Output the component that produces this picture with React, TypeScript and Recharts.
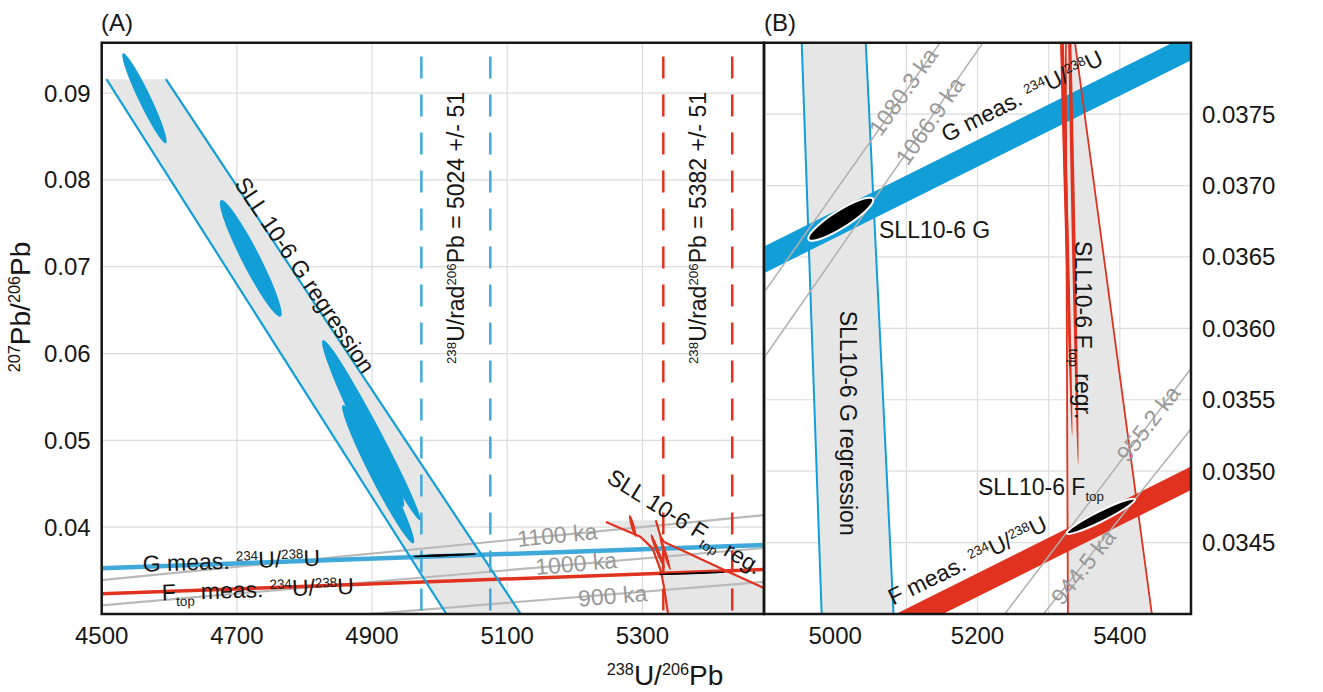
import React from "react";
import {
  ComposedChart,
  Line,
  Area,
  XAxis,
  YAxis,
  CartesianGrid,
  ReferenceLine,
  ReferenceDot,
  ReferenceArea,
} from "recharts";

const FONT = '"Liberation Sans", Arial, Helvetica, sans-serif';
const INK = "#161616";
const GRID = "#dcdcdc";
const BAND = "#e6e6e6";
const BLUE = "#129fd7";
const BLUE_LIGHT = "#3fa9dc";
const RED = "#e1321f";
const ISO = "#b9b9b9";
const ISO_TEXT = "#999999";
const TICK = { fontSize: 24, fill: INK, fontFamily: FONT };

// ---------- panel A (wide view) ----------
const A_X_DOMAIN = [4500, 5480];
const A_Y_DOMAIN = [0.03, 0.0958];
const A_X_TICKS = [4500, 4700, 4900, 5100, 5300];
const A_Y_TICKS = [0.04, 0.05, 0.06, 0.07, 0.08, 0.09];

// SLL10-6 G regression envelope
const A_G_REG_LEFT = [{ x: 4507, y: 0.0916 }, { x: 5010, y: 0.03 }];
const A_G_REG_RIGHT = [{ x: 4595, y: 0.0916 }, { x: 5120, y: 0.03 }];
const A_G_ENVELOPE = [
  { x: 4507, r: [0.0916, 0.0916] },
  { x: 4595, r: [0.0808, 0.0916] },
  { x: 5010, r: [0.03, 0.0429] },
  { x: 5120, r: [0.03, 0.03] },
];

// SLL10-6 Ftop regression envelope (two branches)
const A_F_REG_LEFT = [
  { x: 5246, y: 0.0406 },
  { x: 5297, y: 0.0389 },
  { x: 5315, y: 0.03755 },
  { x: 5327, y: 0.03505 },
  { x: 5332, y: 0.03313 },
  { x: 5338, y: 0.03 },
];
const A_F_REG_RIGHT = [
  { x: 5320, y: 0.0408 },
  { x: 5327, y: 0.0389 },
  { x: 5332, y: 0.0383 },
  { x: 5357, y: 0.0374 },
  { x: 5426, y: 0.0349 },
  { x: 5481, y: 0.03295 },
];
const A_F_ENVELOPE = [
  { x: 5246, r: [0.0406, 0.0407] },
  { x: 5297, r: [0.0389, 0.0408] },
  { x: 5315, r: [0.03755, 0.0408] },
  { x: 5320, r: [0.0365, 0.0408] },
  { x: 5327, r: [0.03505, 0.0389] },
  { x: 5332, r: [0.03313, 0.0383] },
  { x: 5338, r: [0.03, 0.0381] },
  { x: 5357, r: [0.03, 0.0374] },
  { x: 5426, r: [0.03, 0.0349] },
  { x: 5481, r: [0.03, 0.03295] },
];

// isochrons
const A_ISO_1100 = [{ x: 4500, y: 0.0339 }, { x: 5480, y: 0.0414 }];
const A_ISO_1000 = [{ x: 4500, y: 0.031 }, { x: 5480, y: 0.0376 }];
const A_ISO_900 = [{ x: 4897, y: 0.03 }, { x: 5480, y: 0.0337 }];

// measured 234U/238U
const A_G_MEAS = [{ x: 4500, y: 0.03528 }, { x: 5480, y: 0.03796 }];
const A_F_MEAS = [{ x: 4500, y: 0.03232 }, { x: 5480, y: 0.03513 }];

// 238U/rad206Pb ages (value +/- err)
const G_AGE = { value: 5024, err: 51 };
const F_AGE = { value: 5382, err: 51 };
const AGE_TOP = 0.0942;

// ---------- panel B (zoom) ----------
const B_X_DOMAIN = [4900, 5500];
const B_Y_DOMAIN = [0.034, 0.038];
const B_X_TICKS = [5000, 5100, 5200, 5300, 5400];
const B_Y_TICKS = [0.0345, 0.035, 0.0355, 0.036, 0.0365, 0.037, 0.0375];

const B_G_REG_LEFT = [{ x: 4953, y: 0.038 }, { x: 4981, y: 0.034 }];
const B_G_REG_RIGHT = [{ x: 5043, y: 0.038 }, { x: 5082, y: 0.034 }];
const B_G_ENVELOPE = [
  { x: 4953, r: [0.038, 0.038] },
  { x: 4981, r: [0.034, 0.038] },
  { x: 5043, r: [0.034, 0.038] },
  { x: 5082, r: [0.034, 0.034] },
];
const B_F_REG_LEFT = [{ x: 5324, y: 0.038 }, { x: 5327, y: 0.034 }];
const B_F_REG_RIGHT = [{ x: 5337, y: 0.038 }, { x: 5445, y: 0.034 }];
const B_F_ENVELOPE = [
  { x: 5324, r: [0.038, 0.038] },
  { x: 5327, r: [0.034, 0.038] },
  { x: 5337, r: [0.034, 0.038] },
  { x: 5445, r: [0.034, 0.034] },
];
const B_G_MEAS = [{ x: 4860, y: 0.03638 }, { x: 5540, y: 0.03807 }];
const B_F_MEAS = [{ x: 5050, y: 0.03383 }, { x: 5540, y: 0.03505 }];
const B_ISO_1080 = [{ x: 4880, y: 0.03611 }, { x: 5170, y: 0.03816 }];
const B_ISO_1067 = [{ x: 4880, y: 0.03565 }, { x: 5230, y: 0.03816 }];
const B_ISO_955 = [{ x: 5220, y: 0.03388 }, { x: 5520, y: 0.03585 }];
const B_ISO_945 = [{ x: 5280, y: 0.03392 }, { x: 5520, y: 0.03542 }];

// ---------- error ellipses (both panels) ----------
// ends of the long axis, plus a conjugate half width in x (hx) or y (hy) units
type Ell = { x1: number; y1: number; x2: number; y2: number; hx?: number; hy?: number };
const G_GRAINS: Ell[] = [
  { x1: 4532, y1: 0.09458, x2: 4594.6, y2: 0.08421, hx: 10 },
  { x1: 4677.4, y1: 0.07768, x2: 4763.7, y2: 0.06423, hx: 15 },
  { x1: 4827.7, y1: 0.06155, x2: 4946, y2: 0.04234, hx: 14 },
  { x1: 4857.3, y1: 0.05406, x2: 4960.8, y2: 0.03813, hx: 13 },
  { x1: 4832.7, y1: 0.06117, x2: 4970.7, y2: 0.04081, hx: 11 },
];
const F_GRAINS: Ell[] = [
  { x1: 5281.2, y1: 0.04139, x2: 5290.1, y2: 0.03886, hx: 3 },
  { x1: 5312.7, y1: 0.03908, x2: 5333, y2: 0.03525, hx: 2.6 },
  { x1: 5326.1, y1: 0.03889, x2: 5341.4, y2: 0.03505, hx: 2.6 },
  { x1: 5313, y1: 0.0392, x2: 5329, y2: 0.036, hx: 2.4 },
];
const G_MEAN: Ell = { x1: 4962.2, y1: 0.03663, x2: 5053.6, y2: 0.036898, hy: 0.00007 };
const F_MEAN: Ell = { x1: 5325.3, y1: 0.034567, x2: 5421.3, y2: 0.034801, hy: 0.00004 };

// ---------- annotations ----------
type Note = {
  text: string;
  x: number;
  y: number;
  angle: number;
  grey?: boolean;
  anchor?: "start" | "middle";
  clip?: boolean;
};
const ageText = (a: { value: number; err: number }) =>
  `^{238}U/rad^{206}Pb = ${a.value} +/- ${a.err}`;

const A_NOTES: Note[] = [
  { text: "SLL 10-6 G regression", x: 4800.6, y: 0.06904, angle: 56 },
  { text: ageText(G_AGE), x: G_AGE.value, y: 0.07445, angle: -90 },
  { text: ageText(F_AGE), x: F_AGE.value, y: 0.07445, angle: -90 },
  { text: "SLL 10-6 F_{top} reg.", x: 5363, y: 0.04064, angle: 32, clip: true },
  { text: "1100 ka", x: 5174, y: 0.0391, angle: -5.6, grey: true },
  { text: "1000 ka", x: 5202, y: 0.03582, angle: -4.9, grey: true },
  { text: "900 ka", x: 5256, y: 0.0321, angle: -4.7, grey: true },
  { text: "G meas. ^{234}U/^{238}U", x: 4692, y: 0.03615, angle: -2 },
  { text: "F_{top} meas. ^{234}U/^{238}U", x: 4731, y: 0.03286, angle: -2 },
];

const B_NOTES: Note[] = [
  { text: "1080.3 ka", x: 5095.7, y: 0.037657, angle: -54.8, grey: true },
  { text: "1066.9 ka", x: 5133.2, y: 0.037453, angle: -55, grey: true },
  { text: "G meas. ^{234}U/^{238}U", x: 5262.5, y: 0.037627, angle: -26.5 },
  { text: "SLL10-6 G", x: 5061.6, y: 0.036688, angle: 0, anchor: "start" },
  { text: "SLL10-6 G regression", x: 5018, y: 0.035336, angle: 90 },
  { text: "SLL10-6 F_{top} regr.", x: 5348.2, y: 0.035987, angle: 90 },
  { text: "SLL10-6 F_{top}", x: 5200.7, y: 0.03489, angle: 0, anchor: "start" },
  { text: "F meas. ^{234}U/^{238}U", x: 5185.9, y: 0.034376, angle: -26 },
  { text: "955.2 ka", x: 5440, y: 0.035334, angle: -52.8, grey: true },
  { text: "944.5 ka", x: 5348.6, y: 0.03433, angle: -51.6, grey: true },
];

// "^{..}" superscript, "_{..}" subscript
function parseRich(s: string) {
  const out: { t: string; k: "n" | "sup" | "sub" }[] = [];
  const re = /([\^_])\{([^}]*)\}/g;
  let last = 0;
  let m: RegExpExecArray | null;
  while ((m = re.exec(s))) {
    if (m.index > last) out.push({ t: s.slice(last, m.index), k: "n" });
    out.push({ t: m[2], k: m[1] === "^" ? "sup" : "sub" });
    last = re.lastIndex;
  }
  if (last < s.length) out.push({ t: s.slice(last), k: "n" });
  return out;
}

function RichText({
  x,
  y,
  text,
  size,
  angle = 0,
  anchor = "middle",
  fill = INK,
  center = true,
}: {
  x: number;
  y: number;
  text: string;
  size: number;
  angle?: number;
  anchor?: "start" | "middle";
  fill?: string;
  center?: boolean;
}) {
  let shift = 0;
  const spans = parseRich(text).map((p, i) => {
    const target = p.k === "sup" ? -size * 0.34 : p.k === "sub" ? size * 0.26 : 0;
    const dy = target - shift;
    shift = target;
    return (
      <tspan key={i} dy={dy} fontSize={p.k === "n" ? size : size * 0.58}>
        {p.t}
      </tspan>
    );
  });
  return (
    <g transform={`translate(${x},${y}) rotate(${angle})`}>
      <text
        x={0}
        y={center ? size * 0.35 : 0}
        textAnchor={anchor}
        fill={fill}
        fontFamily={FONT}
        fontSize={size}
        style={{ whiteSpace: "pre" }}
      >
        {spans}
      </text>
    </g>
  );
}

const ellipseShape =
  (e: Ell, fill: string, stroke: string, sw: number) => (p: any) => {
    const { x1, y1, x2, y2 } = p;
    if (![x1, y1, x2, y2].every((v) => Number.isFinite(v))) return <g />;
    const cx = (x1 + x2) / 2;
    const cy = (y1 + y2) / 2;
    const ax = (x2 - x1) / 2;
    const ay = (y2 - y1) / 2;
    const bx = e.hx ? (e.hx * (x2 - x1)) / (e.x2 - e.x1) : 0;
    const by = e.hy ? (e.hy * (y2 - y1)) / (e.y2 - e.y1) : 0;
    return (
      <g clipPath={p.clipPath}>
        <ellipse
          cx={0}
          cy={0}
          rx={1}
          ry={1}
          transform={`matrix(${ax} ${ay} ${bx} ${by} ${cx} ${cy})`}
          fill={fill}
          stroke={stroke}
          strokeWidth={sw}
          vectorEffect="non-scaling-stroke"
        />
      </g>
    );
  };

const ellipses = (list: Ell[], key: string, fill: string, stroke = "none", sw = 0, z = 600) =>
  list.map((e, i) => (
    <ReferenceLine
      key={`${key}${i}`}
      segment={[
        { x: e.x1, y: e.y1 },
        { x: e.x2, y: e.y2 },
      ]}
      ifOverflow="hidden"
      zIndex={z}
      shape={ellipseShape(e, fill, stroke, sw)}
    />
  ));

const notes = (list: Note[], key: string, size: number) =>
  list.map((n, i) => (
    <ReferenceDot
      key={`${key}${i}`}
      x={n.x}
      y={n.y}
      r={1}
      ifOverflow={n.clip ? "hidden" : "visible"}
      zIndex={700}
      shape={(p: any) => (
        <g clipPath={p.clipPath}>
          <RichText
            x={p.cx}
            y={p.cy}
            text={n.text}
            size={size}
            angle={n.angle}
            anchor={n.anchor}
            fill={n.grey ? ISO_TEXT : INK}
          />
        </g>
      )}
    />
  ));

const line = (data: any[], key: string, color: string, width: number, z: number) => (
  <Line
    key={key}
    data={data}
    dataKey="y"
    type="linear"
    stroke={color}
    strokeWidth={width}
    dot={false}
    activeDot={false}
    legendType="none"
    isAnimationActive={false}
    zIndex={z}
  />
);

const band = (data: any[], key: string) => (
  <Area
    key={key}
    data={data}
    dataKey="r"
    type="linear"
    stroke="none"
    fill={BAND}
    fillOpacity={1}
    isAnimationActive={false}
    legendType="none"
    activeDot={false}
    zIndex={100}
  />
);

const frame = (xd: number[], yd: number[]) => (
  <ReferenceArea
    x1={xd[0]}
    x2={xd[1]}
    y1={yd[0]}
    y2={yd[1]}
    fill="none"
    stroke={INK}
    strokeWidth={2.5}
    ifOverflow="visible"
    zIndex={900}
  />
);

function PanelA() {
  const dashed = (v: number, color: string, key: string) => (
    <ReferenceLine
      key={key}
      segment={[
        { x: v, y: AGE_TOP },
        { x: v, y: A_Y_DOMAIN[0] },
      ]}
      stroke={color}
      strokeWidth={2.5}
      strokeDasharray="22 16"
      ifOverflow="hidden"
      zIndex={500}
    />
  );
  return (
    <ComposedChart width={800} height={692} margin={{ top: 42.7, right: 36, bottom: 38, left: 0 }}>
      <CartesianGrid stroke={GRID} strokeWidth={1.2} />
      <XAxis
        type="number"
        dataKey="x"
        domain={A_X_DOMAIN}
        ticks={A_X_TICKS}
        interval={0}
        allowDataOverflow
        height={40}
        tickSize={0}
        tickMargin={13}
        axisLine={false}
        tickLine={false}
        tick={TICK}
      />
      <YAxis
        type="number"
        domain={A_Y_DOMAIN}
        ticks={A_Y_TICKS}
        interval={0}
        allowDataOverflow
        width={101.7}
        tickSize={0}
        tickMargin={11}
        axisLine={false}
        tickLine={false}
        tick={TICK}
        tickFormatter={(v: number) => v.toFixed(2)}
      />
      {band(A_G_ENVELOPE, "bg")}
      {band(A_F_ENVELOPE, "bf")}
      {line(A_ISO_1100, "i1", ISO, 2.2, 200)}
      {line(A_ISO_1000, "i2", ISO, 2.2, 200)}
      {line(A_ISO_900, "i3", ISO, 2.2, 200)}
      {line(A_G_MEAS, "mg", BLUE_LIGHT, 4.5, 300)}
      {line(A_F_MEAS, "mf", RED, 3.5, 300)}
      {line(A_G_REG_LEFT, "rg1", BLUE, 2.2, 400)}
      {line(A_G_REG_RIGHT, "rg2", BLUE, 2.2, 400)}
      {line(A_F_REG_LEFT, "rf1", RED, 2.2, 400)}
      {line(A_F_REG_RIGHT, "rf2", RED, 2.2, 400)}
      {dashed(G_AGE.value - G_AGE.err, BLUE_LIGHT, "dg1")}
      {dashed(G_AGE.value + G_AGE.err, BLUE_LIGHT, "dg2")}
      {dashed(F_AGE.value - F_AGE.err, RED, "df1")}
      {dashed(F_AGE.value + F_AGE.err, RED, "df2")}
      {ellipses(G_GRAINS, "eg", BLUE)}
      {ellipses(F_GRAINS, "ef", RED)}
      {ellipses([G_MEAN, F_MEAN], "em", "#000", "#000", 1.2, 650)}
      {notes(A_NOTES, "na", 23)}
      {frame(A_X_DOMAIN, A_Y_DOMAIN)}
    </ComposedChart>
  );
}

function PanelB() {
  return (
    <ComposedChart width={623} height={692} margin={{ top: 42.7, right: 0, bottom: 38, left: 64 }}>
      <CartesianGrid stroke={GRID} strokeWidth={1.2} />
      <XAxis
        type="number"
        dataKey="x"
        domain={B_X_DOMAIN}
        ticks={B_X_TICKS}
        interval={0}
        allowDataOverflow
        height={40}
        tickSize={0}
        tickMargin={13}
        axisLine={false}
        tickLine={false}
        tick={TICK}
        tickFormatter={(v: number) => (v % 200 === 0 ? String(v) : "")}
      />
      <YAxis
        orientation="right"
        type="number"
        domain={B_Y_DOMAIN}
        ticks={B_Y_TICKS}
        interval={0}
        allowDataOverflow
        width={132}
        tickSize={0}
        tickMargin={11}
        axisLine={false}
        tickLine={false}
        tick={TICK}
        tickFormatter={(v: number) => v.toFixed(4)}
      />
      {band(B_G_ENVELOPE, "bg")}
      {band(B_F_ENVELOPE, "bf")}
      {line(B_G_MEAS, "mg", BLUE, 24, 200)}
      {line(B_F_MEAS, "mf", RED, 21, 200)}
      {line(B_G_REG_LEFT, "rg1", BLUE, 2, 300)}
      {line(B_G_REG_RIGHT, "rg2", BLUE, 2, 300)}
      {line(B_F_REG_LEFT, "rf1", RED, 1.8, 300)}
      {line(B_F_REG_RIGHT, "rf2", RED, 1.8, 300)}
      {line(B_ISO_1080, "i1", "#b0b0b0", 1.5, 400)}
      {line(B_ISO_1067, "i2", "#b0b0b0", 1.5, 400)}
      {line(B_ISO_955, "i3", "#b0b0b0", 1.5, 400)}
      {line(B_ISO_945, "i4", "#b0b0b0", 1.5, 400)}
      {ellipses(G_GRAINS, "eg", BLUE)}
      {ellipses(F_GRAINS, "ef", RED)}
      {ellipses([G_MEAN, F_MEAN], "em", "#000", "#fff", 2, 650)}
      {notes(B_NOTES, "nb", 23)}
      {frame(B_X_DOMAIN, B_Y_DOMAIN)}
    </ComposedChart>
  );
}

export default function App() {
  return (
    <div
      style={{
        position: "absolute",
        left: 0,
        top: 0,
        width: 1323,
        height: 692,
        background: "#fff",
        overflow: "hidden",
      }}
    >
      <div style={{ position: "absolute", left: 0, top: 0 }}>
        <PanelA />
      </div>
      <div style={{ position: "absolute", left: 700, top: 0 }}>
        <PanelB />
      </div>
      <svg
        width={1323}
        height={692}
        style={{ position: "absolute", left: 0, top: 0, pointerEvents: "none" }}
      >
        <text x={101} y={31} fontSize={24} fontFamily={FONT} fill={INK}>
          (A)
        </text>
        <text x={764} y={31} fontSize={24} fontFamily={FONT} fill={INK}>
          (B)
        </text>
        <RichText x={665} y={685} text="^{238}U/^{206}Pb" size={28} center={false} />
        <RichText x={30} y={307} angle={-90} text="^{207}Pb/^{206}Pb" size={28} center={false} />
      </svg>
    </div>
  );
}
